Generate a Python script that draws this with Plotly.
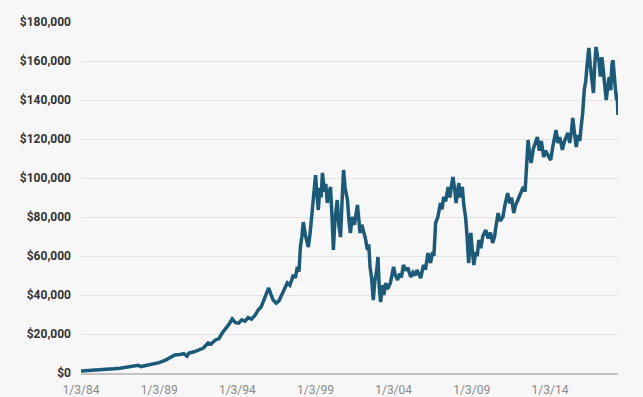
import plotly.graph_objects as go

dates = [
    "1984-01-03", "1984-06-01", "1984-11-01", "1985-04-01", "1985-09-01", "1986-02-01",
    "1986-07-01", "1986-12-01", "1987-05-01", "1987-09-01", "1987-11-01", "1988-04-01",
    "1988-09-01", "1989-01-03", "1989-06-01", "1989-10-01", "1990-01-02", "1990-05-01",
    "1990-08-01", "1990-10-15", "1990-12-01", "1991-04-01", "1991-08-01", "1991-11-01",
    "1992-02-20", "1992-05-01", "1992-08-01", "1992-11-01", "1993-01-15", "1993-04-01",
    "1993-06-15", "1993-09-05", "1993-11-20", "1994-02-01", "1994-04-15", "1994-07-01",
    "1994-09-10", "1994-12-01", "1995-02-25", "1995-05-01", "1995-07-15", "1995-09-15",
    "1995-11-20", "1996-01-05", "1996-03-01", "1996-04-20", "1996-07-01", "1996-09-01",
    "1996-11-15", "1997-01-15", "1997-03-15", "1997-05-15", "1997-08-05", "1997-09-20",
    "1997-11-05", "1997-12-15", "1998-01-15", "1998-02-20", "1998-03-25", "1998-05-10",
    "1998-07-20", "1998-09-01", "1998-10-20", "1998-11-25", "1999-01-05", "1999-02-05",
    "1999-03-10", "1999-04-15", "1999-05-15", "1999-06-15", "1999-08-01", "1999-09-01",
    "1999-10-05", "1999-11-10", "1999-12-20", "2000-01-25", "2000-02-25", "2000-04-01",
    "2000-05-25", "2000-07-01", "2000-08-10", "2000-09-15", "2000-10-20", "2000-11-25",
    "2001-01-20", "2001-02-20", "2001-03-28", "2001-05-10", "2001-07-01", "2001-09-10",
    "2001-10-10", "2001-11-10", "2001-12-20", "2002-01-30", "2002-03-15", "2002-05-01",
    "2002-06-01", "2002-07-01", "2002-08-05", "2002-09-15", "2002-10-20", "2002-12-01",
    "2003-01-02", "2003-02-01", "2003-03-05", "2003-04-15", "2003-05-20", "2003-07-01",
    "2003-08-15", "2003-10-20", "2003-11-20", "2004-01-02", "2004-02-15", "2004-04-05",
    "2004-05-25", "2004-07-01", "2004-08-20", "2004-10-15", "2004-12-01", "2005-02-05",
    "2005-04-01", "2005-05-15", "2005-07-01", "2005-08-15", "2005-09-25", "2005-12-01",
    "2006-01-15", "2006-03-15", "2006-05-15", "2006-07-01", "2006-08-01", "2006-09-10",
    "2006-11-01", "2007-01-02", "2007-02-10", "2007-03-15", "2007-05-01", "2007-07-01",
    "2007-08-10", "2007-09-15", "2007-10-20", "2007-12-01", "2008-01-02", "2008-02-01",
    "2008-03-05", "2008-04-10", "2008-05-25", "2008-07-01", "2008-08-10", "2008-09-15",
    "2008-10-20", "2008-11-15", "2008-12-10", "2009-01-15", "2009-02-20", "2009-04-01",
    "2009-05-10", "2009-06-15", "2009-08-01", "2009-09-15", "2009-11-25", "2010-01-20",
    "2010-03-15", "2010-05-05", "2010-06-20", "2010-07-20", "2010-09-10", "2010-10-25",
    "2010-12-30", "2011-02-15", "2011-04-20", "2011-06-10", "2011-07-20", "2011-09-10",
    "2011-10-20", "2011-12-15", "2012-02-01", "2012-04-20", "2012-06-01", "2012-07-10",
    "2012-08-10", "2012-09-10", "2012-10-20", "2012-12-10", "2013-01-20", "2013-03-15",
    "2013-05-01", "2013-06-15", "2013-08-10", "2013-09-20", "2013-11-10", "2014-01-20",
    "2014-03-10", "2014-04-20", "2014-05-25", "2014-07-10", "2014-08-20", "2014-10-20",
    "2014-12-10", "2015-02-25", "2015-04-10", "2015-05-20", "2015-06-20", "2015-07-25",
    "2015-09-10", "2015-10-20", "2015-12-01", "2016-01-02", "2016-02-05", "2016-03-15",
    "2016-04-20", "2016-05-20", "2016-06-30", "2016-08-01", "2016-09-01", "2016-10-15",
    "2016-11-15", "2016-12-15", "2017-01-20", "2017-02-20", "2017-03-25", "2017-05-01",
    "2017-05-25", "2017-07-01", "2017-08-10", "2017-09-15", "2017-10-20", "2017-11-25",
    "2017-12-20", "2018-01-15", "2018-02-15", "2018-03-15", "2018-04-10", "2018-04-25",
    "2018-05-10",
]
values = [
    1000, 1150, 1300, 1500, 1750, 2150,
    2450, 2900, 3500, 4000, 3300, 3900,
    4500, 5300, 6600, 7800, 9200, 9500,
    9900, 8600, 10300, 10900, 11800, 12800,
    15400, 14900, 16800, 17600, 20500, 22400,
    24800, 27700, 25800, 25600, 27300, 26600,
    28400, 27600, 29700, 32200, 34000, 37400,
    40500, 43600, 40200, 37400, 35800, 37000,
    40500, 43800, 46200, 45000, 50300, 48800,
    54400, 52000, 64600, 70000, 77400, 71000,
    64600, 72000, 82000, 90000, 101500, 92000,
    83600, 95000, 90000, 102600, 93000, 97000,
    87200, 92000, 95400, 80000, 63100, 78000,
    88700, 76000, 69700, 88000, 104100, 95000,
    88700, 79000, 71800, 80000, 76000, 86200,
    78000, 71800, 76000, 73300, 69000, 63100,
    66000, 54400, 49000, 37400, 47000, 52000,
    59500, 44000, 36400, 45000, 40000, 46200,
    43000, 46200, 50000, 54400, 50000, 47700,
    51000, 49000, 55400, 52500, 54000, 49200,
    51500, 50000, 52800, 51000, 48700, 55400,
    53000, 61500, 56400, 62000, 60000, 76900,
    80000, 87200, 84000, 90300, 88000, 95400,
    90000, 96000, 100500, 94000, 87200, 92000,
    97400, 90000, 95400, 86000, 80000, 70000,
    56400, 64000, 71800, 63000, 55400, 62000,
    60000, 68200, 64000, 70000, 73300, 69000,
    72000, 66700, 70000, 75000, 82000, 78000,
    80000, 86000, 92300, 87000, 90000, 82000,
    86000, 88700, 91000, 95400, 93000, 105000,
    119500, 113000, 107700, 115000, 118000, 121000,
    114000, 119000, 110800, 114000, 112000, 109200,
    116000, 120000, 124600, 118000, 121000, 114400,
    119000, 123100, 118000, 124000, 130800, 124000,
    115900, 122000, 119000, 126200, 133000, 145100,
    150000, 158000, 166700, 158000, 150000, 143600,
    158000, 167200, 162000, 160500, 152000, 162000,
    156900, 148000, 140000, 147000, 151800, 145000,
    158000, 160500, 150000, 145100, 140000, 143000,
    132300,
]

tick_dates = ["1984-01-03", "1989-01-03", "1994-01-03", "1999-01-03",
              "2004-01-03", "2009-01-03", "2014-01-03"]
tick_labels = ["1/3/84", "1/3/89", "1/3/94", "1/3/99", "1/3/04", "1/3/09", "1/3/14"]
y_ticks = [0, 20000, 40000, 60000, 80000, 100000, 120000, 140000, 160000, 180000]
y_tick_labels = ["$0", "$20,000", "$40,000", "$60,000", "$80,000", "$100,000",
                 "$120,000", "$140,000", "$160,000", "$180,000"]

fig = go.Figure()
fig.add_trace(go.Scatter(
    x=dates, y=values, mode="lines",
    line=dict(color="#1b5b79", width=3.5),
    hoverinfo="skip",
))

fig.update_layout(
    width=643, height=397,
    margin=dict(l=81, r=25, t=22, b=24),
    paper_bgcolor="#f7f7f7", plot_bgcolor="#f7f7f7",
    showlegend=False,
    xaxis=dict(
        type="date", automargin=False,
        range=["1984-01-03", "2018-05-12"],
        tickvals=tick_dates, ticktext=tick_labels,
        showgrid=False, zeroline=False,
        showline=True, linecolor="#c4c4c4", linewidth=2,
        ticks="", ticklabelstandoff=5,
        tickfont=dict(family="Roboto", size=12, color="#8a8a8a"),
    ),
    yaxis=dict(
        range=[0, 180000], automargin=False,
        tickvals=y_ticks, ticktext=y_tick_labels,
        showgrid=True, gridcolor="#e4e4e4", gridwidth=1,
        zeroline=False, showline=False, ticks="",
        ticklabelstandoff=9,
        tickfont=dict(family="Roboto", size=12, color="#333333", weight=700),
    ),
)

fig.write_html(
    "out.html",
    config={"displayModeBar": False},
    post_script="document.body.style.margin='0';document.body.style.background='#f7f7f7';",
)
